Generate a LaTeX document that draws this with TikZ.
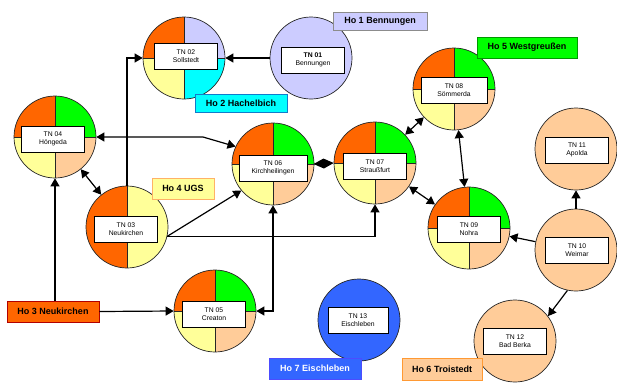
\documentclass[tikz,border=0pt]{standalone}
\usepackage{fontspec}
\setmainfont{Liberation Sans}
\usetikzlibrary{arrows.meta}
\definecolor{cOr}{HTML}{FF6600}
\definecolor{cGr}{HTML}{00FF00}
\definecolor{cYe}{HTML}{FFFF99}
\definecolor{cPe}{HTML}{FFCC99}
\definecolor{cLav}{HTML}{CCCCFF}
\definecolor{cCy}{HTML}{00FFFF}
\definecolor{cBl}{HTML}{3366FF}
\tikzset{
  tncirc/.style={circle, draw=black!85, line width=0.7pt, minimum size=82pt, inner sep=0pt},
  divline/.style={draw=black!85, line width=0.6pt},
  tnlbl/.style={draw=black, fill=white, line width=0.7pt, minimum width=63pt, minimum height=26pt, inner sep=0pt, align=center, font=\fontsize{6.8}{8.3}\selectfont},
  holbl/.style={line width=0.9pt, inner sep=0pt, font=\bfseries\fontsize{9}{10}\selectfont},
  conn/.style={line width=1.2pt, draw=black},
}
\newcommand\pienode[7]{%
  \begin{scope}
    \clip (#2,#3) circle[radius=41];
    \fill[#4] (#2,#3) rectangle ++(-45,-45);
    \fill[#5] (#2,#3) rectangle ++(45,-45);
    \fill[#6] (#2,#3) rectangle ++(-45,45);
    \fill[#7] (#2,#3) rectangle ++(45,45);
  \end{scope}
  \draw[divline] (#2,#3-41) -- (#2,#3+41);
  \draw[divline] (#2-41,#3) -- (#2+41,#3);
  \node[tncirc] (#1) at (#2,#3) {};
}
\begin{document}
\begin{tikzpicture}[x=1pt,y=-1pt,>={Triangle[length=8pt,width=9pt]}]
\useasboundingbox[fill=white] (0,0) rectangle (617,383);

% circles
\pienode{tn02}{184}{58}{cOr}{cLav}{cYe}{cCy}
\pienode{tn04}{55}{137}{cOr}{cGr}{cYe}{cPe}
\begin{scope}
  \clip (127,227) circle[radius=41];
  \fill[cOr] (127,227) rectangle ++(-45,-45);
  \fill[cOr] (127,227) rectangle ++(-45,45);
  \fill[cYe] (127,227) rectangle ++(45,-45);
  \fill[cYe] (127,227) rectangle ++(45,45);
\end{scope}
\draw[divline] (127,186) -- (127,268);
\node[tncirc] (tn03) at (127,227) {};
\pienode{tn05}{215}{311}{cOr}{cGr}{cYe}{cPe}
\pienode{tn06}{273}{164}{cOr}{cGr}{cYe}{cPe}
\pienode{tn07}{375}{163}{cOr}{cGr}{cYe}{cPe}
\pienode{tn08}{454}{89}{cOr}{cGr}{cYe}{cPe}
\pienode{tn09}{469}{228}{cOr}{cGr}{cYe}{cPe}
\node[tncirc, fill=cLav] (tn01) at (311,58) {};
\node[tncirc, fill=cPe] (tn10) at (576,250) {};
\node[tncirc, fill=cPe] (tn11) at (576,149) {};
\node[tncirc, fill=cPe] (tn12) at (515,341) {};
\node[tncirc, fill=cBl] (tn13) at (359,320) {};

% label boxes
\node[tnlbl] (l01) at (313,60) {\textbf{TN 01}\\Bennungen};
\node[tnlbl] (l02) at (186,56) {TN 02\\Sollstedt};
\node[tnlbl] (l03) at (126,229) {TN 03\\Neukirchen};
\node[tnlbl] (l04) at (53,139) {TN 04\\Höngeda};
\node[tnlbl] (l05) at (214,314) {TN 05\\Creaton};
\node[tnlbl, minimum width=68pt] (l06) at (273,168) {TN 06\\Kirchheilingen};
\node[tnlbl] (l07) at (375,166) {TN 07\\Straußfurt};
\node[tnlbl, minimum width=66pt] (l08) at (454,90) {TN 08\\Sömmerda};
\node[tnlbl] (l09) at (469,229) {TN 09\\Nohra};
\node[tnlbl] (l10) at (577,250) {TN 10\\Weimar};
\node[tnlbl] (l11) at (577,150) {TN 11\\Apolda};
\node[tnlbl] (l12) at (515,341) {TN 12\\Bad Berka};
\node[tnlbl, minimum width=60pt] (l13) at (358,320) {TN 13\\Eischleben};

% Ho boxes
\node[holbl, fill=cLav, draw=black!45, minimum width=94pt, minimum height=18pt] (ho1) at (380,21) {Ho 1 Bennungen};
\node[holbl, fill=cCy, draw=cyan!60!blue, minimum width=92pt, minimum height=18pt] (ho2) at (241,103) {Ho 2 Hachelbich};
\node[holbl, fill=cOr, draw=red!70!black, minimum width=92pt, minimum height=21pt] (ho3) at (53,311.5) {Ho 3 Neukirchen};
\node[holbl, fill=cYe, draw=orange!60, minimum width=62pt, minimum height=21pt] (ho4) at (183,188.5) {Ho 4 UGS};
\node[holbl, fill=cGr, draw=green!60!black, minimum width=100pt, minimum height=21pt] (ho5) at (527,47.5) {Ho 5 Westgreußen};
\node[holbl, fill=cPe, draw=orange!80, minimum width=80pt, minimum height=22pt] (ho6) at (442,369) {Ho 6 Troistedt};
\node[holbl, fill=cBl, draw=blue!70, text=white, minimum width=92pt, minimum height=21pt] (ho7) at (315,368.5) {Ho 7 Eischleben};

% connectors
\coordinate (k1) at (203,137);
\draw[conn,->] (tn01) -- (tn02);
\draw[conn,->] (tn03.north) |- (tn02.west);
\draw[conn,<->] (tn04.east) -- (k1) -- (tn06.155);
\draw[conn,<->] (tn04) -- (tn03);
\draw[conn,->] (tn03.-13) -- (tn06.220);
\draw[conn,->] (tn03.-13) -| (tn07.south);
\draw[conn,<->] (tn06.south) |- (tn05.east);
\draw[conn,->] (tn04.south |- ho3.north) -- (tn04.south);
\draw[conn,->] (ho3.east) -- (tn05.west);
\draw[conn,-{Diamond[length=20pt,width=10pt]}] (tn06.east) -- (tn07.west);
\draw[conn,<->] (tn07) -- (tn08);
\draw[conn,<->] (tn08) -- (tn09);
\draw[conn,<->] (tn07) -- (tn09);
\draw[conn,->] (tn10) -- (tn09);
\draw[conn,->] (tn10.north) -- (tn11.south);
\draw[conn,->] (tn10.258) -- (tn12.37);
\end{tikzpicture}
\end{document}
